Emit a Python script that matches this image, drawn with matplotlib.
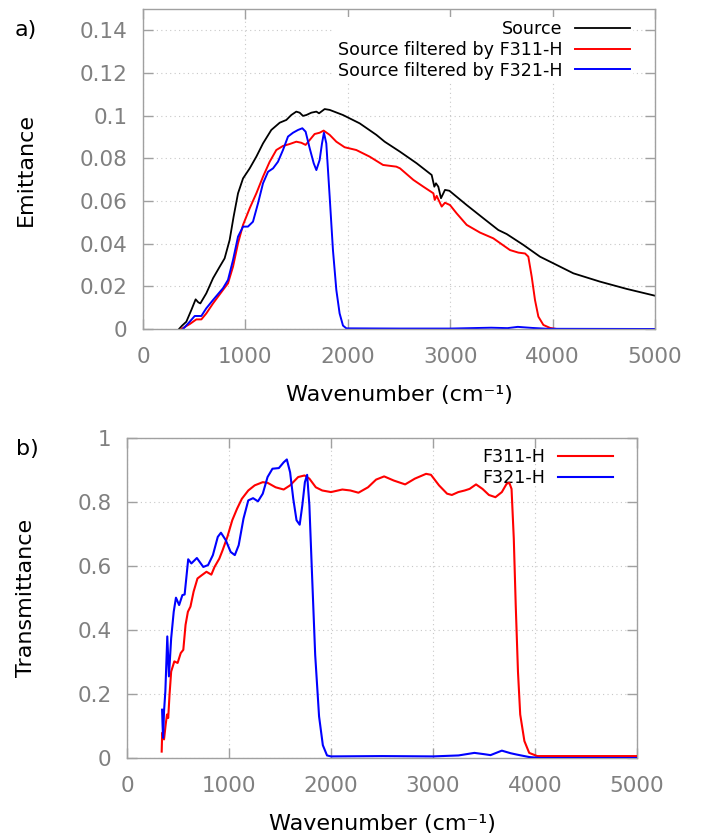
import numpy as np
import matplotlib
matplotlib.use("Agg")
import matplotlib.pyplot as plt

# ---------------- data ----------------
# a) Emittance
src_wn = [352, 380, 423, 472, 514, 540, 560, 618, 684, 749, 797, 846, 885, 928, 977, 1042, 1107,
          1172, 1253, 1335, 1400, 1448, 1497, 1530, 1562, 1595, 1644, 1693, 1719, 1774, 1823, 1953,
          2116, 2279, 2360, 2510, 2672, 2819, 2845, 2861, 2884, 2910, 2949, 2992, 3161, 3324, 3470,
          3552, 3715, 3877, 4007, 4203, 4463, 4723, 5000]
src_em = [0.0, 0.0015, 0.0034, 0.0089, 0.0139, 0.0125, 0.0120, 0.0167, 0.0238, 0.0292, 0.0331,
          0.0417, 0.0527, 0.0636, 0.0706, 0.0753, 0.0808, 0.0870, 0.0933, 0.0967, 0.0980, 0.1003,
          0.1019, 0.1014, 0.0999, 0.1003, 0.1014, 0.1019, 0.1011, 0.1031, 0.1027, 0.1003, 0.0964,
          0.0910, 0.0878, 0.0831, 0.0777, 0.0722, 0.0667, 0.0683, 0.0667, 0.0613, 0.0652, 0.0648,
          0.0581, 0.0519, 0.0464, 0.0445, 0.0394, 0.0339, 0.0308, 0.0261, 0.0222, 0.0188, 0.0156]

f311_em_wn = [374, 456, 521, 570, 618, 684, 781, 830, 879, 928, 977, 1042, 1107, 1172, 1237, 1302,
              1367, 1432, 1497, 1546, 1588, 1628, 1676, 1725, 1764, 1823, 1888, 1969, 2083, 2213,
              2344, 2392, 2474, 2510, 2640, 2738, 2836, 2849, 2868, 2917, 2949, 2998, 3063, 3161,
              3291, 3421, 3584, 3666, 3731, 3763, 3796, 3828, 3861, 3910, 3975, 4040, 5000]
f311_em = [0.0, 0.0023, 0.0045, 0.0045, 0.0073, 0.0120, 0.0183, 0.0214, 0.0292, 0.0402, 0.0488,
           0.0566, 0.0636, 0.0714, 0.0784, 0.0839, 0.0858, 0.0867, 0.0878, 0.0873, 0.0863, 0.0886,
           0.0914, 0.0920, 0.0930, 0.0910, 0.0878, 0.0852, 0.0839, 0.0808, 0.0769, 0.0766, 0.0761,
           0.0753, 0.0699, 0.0667, 0.0636, 0.0605, 0.0624, 0.0574, 0.0592, 0.0581, 0.0542, 0.0488,
           0.0452, 0.0425, 0.0370, 0.0358, 0.0354, 0.0339, 0.0245, 0.0136, 0.0058, 0.0019, 0.0005,
           0.0, 0.0]

f321_em_wn = [391, 456, 505, 570, 618, 684, 781, 830, 879, 928, 977, 1025, 1074, 1123, 1172, 1221,
              1270, 1318, 1367, 1416, 1465, 1514, 1556, 1588, 1628, 1667, 1693, 1725, 1748, 1767,
              1790, 1823, 1855, 1888, 1920, 1953, 1986, 2500, 3000, 3400, 3560, 3660, 3800, 3950, 5000]
f321_em = [0.0, 0.0034, 0.0061, 0.0061, 0.0097, 0.0136, 0.0191, 0.0230, 0.0323, 0.0433, 0.0480,
           0.0480, 0.0503, 0.0589, 0.0683, 0.0737, 0.0753, 0.0784, 0.0839, 0.0902, 0.0920, 0.0933,
           0.0941, 0.0925, 0.0847, 0.0777, 0.0745, 0.0792, 0.0870, 0.0920, 0.0870, 0.0620, 0.0370,
           0.0183, 0.0073, 0.0016, 0.0003, 0.0002, 0.0002, 0.0006, 0.0004, 0.0010, 0.0005, 0.0001, 0.0]

# b) Transmittance
f311_tr_wn = [340, 345, 363, 379, 392, 404, 417, 433, 464, 496, 527, 552, 574, 597, 622, 653, 691,
              732, 779, 827, 858, 905, 937, 984, 1032, 1079, 1126, 1189, 1252, 1331, 1378, 1457,
              1536, 1599, 1678, 1741, 1788, 1851, 1914, 2000, 2111, 2190, 2269, 2363, 2442, 2521,
              2616, 2727, 2822, 2932, 2980, 3059, 3138, 3185, 3248, 3311, 3359, 3422, 3485, 3548,
              3612, 3675, 3722, 3748, 3770, 3792, 3811, 3833, 3855, 3896, 3943, 4022, 5000]
f311_tr = [0.02, 0.079, 0.058, 0.104, 0.136, 0.125, 0.198, 0.270, 0.302, 0.297, 0.328, 0.338, 0.416,
           0.457, 0.473, 0.520, 0.561, 0.571, 0.582, 0.573, 0.597, 0.623, 0.649, 0.691, 0.743, 0.779,
           0.810, 0.836, 0.852, 0.862, 0.860, 0.846, 0.839, 0.852, 0.878, 0.883, 0.873, 0.846, 0.836,
           0.831, 0.839, 0.836, 0.829, 0.846, 0.870, 0.880, 0.867, 0.855, 0.873, 0.888, 0.885, 0.852,
           0.826, 0.822, 0.831, 0.836, 0.841, 0.855, 0.841, 0.822, 0.815, 0.831, 0.857, 0.860, 0.841,
           0.686, 0.478, 0.270, 0.136, 0.053, 0.016, 0.006, 0.006]

f321_tr_wn = [344, 349, 354, 363, 376, 395, 411, 433, 458, 480, 511, 543, 565, 581, 600, 631, 685,
              748, 795, 842, 890, 921, 968, 1016, 1057, 1095, 1142, 1189, 1236, 1284, 1331, 1378,
              1426, 1489, 1536, 1567, 1599, 1630, 1662, 1693, 1719, 1744, 1766, 1788, 1813, 1845,
              1883, 1920, 1961, 2000, 2500, 3000, 3250, 3406, 3500, 3564, 3675, 3760, 3817, 3943,
              4050, 5000]
f321_tr = [0.151, 0.10, 0.063, 0.146, 0.208, 0.380, 0.255, 0.374, 0.457, 0.501, 0.478, 0.509, 0.511,
           0.561, 0.621, 0.608, 0.625, 0.597, 0.603, 0.634, 0.691, 0.704, 0.681, 0.644, 0.634, 0.665,
           0.748, 0.805, 0.812, 0.802, 0.826, 0.878, 0.904, 0.906, 0.924, 0.933, 0.893, 0.810, 0.743,
           0.729, 0.790, 0.862, 0.885, 0.790, 0.582, 0.322, 0.130, 0.040, 0.008, 0.005, 0.006, 0.005,
           0.008, 0.016, 0.012, 0.009, 0.023, 0.015, 0.011, 0.003, 0.0, 0.0]

x_ticks = [0, 1000, 2000, 3000, 4000, 5000]
x_ticklabels = ["0", "1000", "2000", "3000", "4000", "5000"]
em_ticks = [0, 0.02, 0.04, 0.06, 0.08, 0.1, 0.12, 0.14]
em_ticklabels = ["0", "0.02", "0.04", "0.06", "0.08", "0.1", "0.12", "0.14"]
tr_ticks = [0, 0.2, 0.4, 0.6, 0.8, 1.0]
tr_ticklabels = ["0", "0.2", "0.4", "0.6", "0.8", "1"]

labels_a = ["Source", "Source filtered by F311-H", "Source filtered by F321-H"]
labels_b = ["F311-H", "F321-H"]

# ---------------- figure ----------------
W, H = 710, 840
fig = plt.figure(figsize=(W / 100, H / 100), dpi=100)
plt.rcParams['font.family'] = ['DejaVu Sans']

def px_axes(l, t, r, b):
    return fig.add_axes([l / W, 1 - b / H, (r - l) / W, (b - t) / H])

ax1 = px_axes(143, 9, 655, 329)
ax2 = px_axes(127, 438, 637, 758)

spine_col = '#a0a0a0'
tick_lab_col = '#808080'

def style(ax, yticks, yticklabels, ylim):
    ax.set_xlim(0, 5000)
    ax.set_ylim(*ylim)
    ax.set_xticks(x_ticks)
    ax.set_xticklabels(x_ticklabels)
    ax.set_yticks(yticks)
    ax.set_yticklabels(yticklabels)
    for s in ax.spines.values():
        s.set_color(spine_col)
        s.set_linewidth(1.0)
    ax.tick_params(axis='both', direction='in', length=7, width=1, color=spine_col,
                   labelcolor=tick_lab_col, labelsize=15.5, top=True, right=True)
    ax.tick_params(axis='x', pad=13)
    ax.tick_params(axis='y', pad=11)
    ax.grid(True, color='#c8c8c8', linestyle=(0, (1, 3)), linewidth=0.8)
    ax.set_axisbelow(True)

style(ax1, em_ticks, em_ticklabels, (0, 0.15))
style(ax2, tr_ticks, tr_ticklabels, (0, 1.0))

ax1.plot(src_wn, src_em, color='black', lw=1.3, label=labels_a[0])
ax1.plot(f311_em_wn, f311_em, color='#ff0000', lw=1.4, label=labels_a[1])
ax1.plot(f321_em_wn, f321_em, color='#0000ff', lw=1.4, label=labels_a[2])

ax2.plot(f311_tr_wn, f311_tr, color='#ff0000', lw=1.5, label=labels_b[0], zorder=3)
ax2.plot(f321_tr_wn, f321_tr, color='#0000ff', lw=1.5, label=labels_b[1], zorder=3)

leg_kw = dict(fontsize=12.6, fancybox=False, markerfirst=False, handlelength=3.1,
              handletextpad=0.75, labelspacing=0.16, borderpad=0.2, borderaxespad=0,
              loc='upper right', bbox_transform=fig.transFigure)
ax1.legend(bbox_to_anchor=(633 / W, 1 - 16.5 / H), frameon=True, facecolor='white',
           edgecolor='none', framealpha=1, **leg_kw)
leg2 = ax2.legend(bbox_to_anchor=(616 / W, 1 - 444.5 / H), frameon=False, **leg_kw)
leg2.set_zorder(2)

ax1.set_xlabel("Wavenumber (cm⁻¹)", fontsize=16, labelpad=13)
ax2.set_xlabel("Wavenumber (cm⁻¹)", fontsize=16, labelpad=13)

fig.text(26 / W, 1 - 169 / H, "Emittance", rotation=90, ha='center', va='center', fontsize=16)
fig.text(26 / W, 1 - 598 / H, "Transmittance", rotation=90, ha='center', va='center', fontsize=16)
fig.text(26 / W, 1 - 30 / H, "a)", ha='center', va='center', fontsize=16)
fig.text(27 / W, 1 - 449 / H, "b)", ha='center', va='center', fontsize=16)

fig.savefig("out.png", dpi=100, facecolor='white')
